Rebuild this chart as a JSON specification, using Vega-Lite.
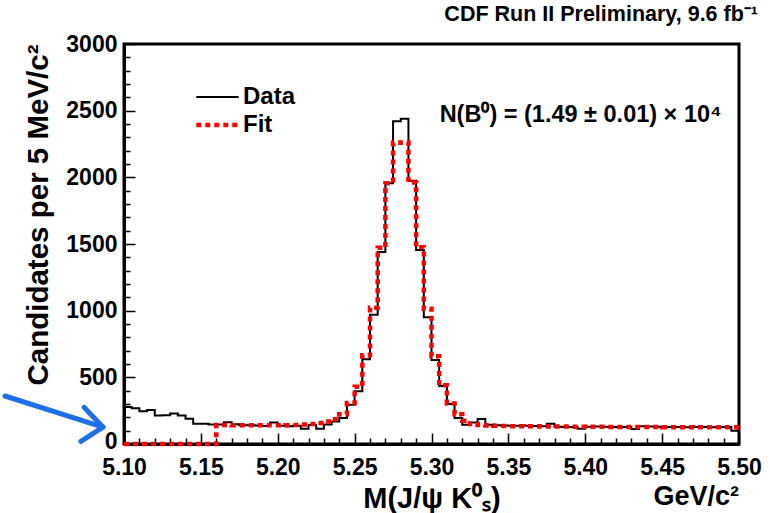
{
  "$schema": "https://vega.github.io/schema/vega-lite/v6.json",
  "width": 615,
  "height": 400,
  "autosize": {"type": "none"},
  "padding": {"left": 124, "top": 44, "right": 31, "bottom": 69},
  "background": "white",
  "config": {
    "font": "Liberation Sans Narrow, Liberation Sans, sans-serif",
    "view": {"stroke": "black", "strokeWidth": 3},
    "axis": {"grid": false, "domainColor": "black", "domainWidth": 3, "tickColor": "black", "tickWidth": 1.5, "labelColor": "black", "titleColor": "black", "labelFontWeight": "bold", "titleFontWeight": "bold", "labelOverlap": false, "labelFlush": false, "tickCount": 100}
  },
  "title": {"text": "CDF Run II Preliminary, 9.6 fb⁻¹", "anchor": "end", "frame": "group", "fontSize": 21.5, "fontWeight": "bold", "color": "black", "offset": 8, "dx": 19},
  "layer": [
    {
      "data": {"values": [
        {"lo": 5.100, "hi": 5.105, "Data": 278, "Fit": 0},
        {"lo": 5.105, "hi": 5.110, "Data": 268, "Fit": 0},
        {"lo": 5.110, "hi": 5.115, "Data": 245, "Fit": 0},
        {"lo": 5.115, "hi": 5.120, "Data": 255, "Fit": 0},
        {"lo": 5.120, "hi": 5.125, "Data": 213, "Fit": 0},
        {"lo": 5.125, "hi": 5.130, "Data": 216, "Fit": 0},
        {"lo": 5.130, "hi": 5.135, "Data": 228, "Fit": 0},
        {"lo": 5.135, "hi": 5.140, "Data": 213, "Fit": 0},
        {"lo": 5.140, "hi": 5.145, "Data": 190, "Fit": 0},
        {"lo": 5.145, "hi": 5.150, "Data": 152, "Fit": 0},
        {"lo": 5.150, "hi": 5.155, "Data": 151, "Fit": 0},
        {"lo": 5.155, "hi": 5.160, "Data": 147, "Fit": 0},
        {"lo": 5.160, "hi": 5.165, "Data": 146, "Fit": 142},
        {"lo": 5.165, "hi": 5.170, "Data": 163, "Fit": 142},
        {"lo": 5.170, "hi": 5.175, "Data": 148, "Fit": 141},
        {"lo": 5.175, "hi": 5.180, "Data": 140, "Fit": 140},
        {"lo": 5.180, "hi": 5.185, "Data": 140, "Fit": 140},
        {"lo": 5.185, "hi": 5.190, "Data": 138, "Fit": 140},
        {"lo": 5.190, "hi": 5.195, "Data": 135, "Fit": 140},
        {"lo": 5.195, "hi": 5.200, "Data": 162, "Fit": 140},
        {"lo": 5.200, "hi": 5.205, "Data": 136, "Fit": 140},
        {"lo": 5.205, "hi": 5.210, "Data": 134, "Fit": 141},
        {"lo": 5.210, "hi": 5.215, "Data": 137, "Fit": 143},
        {"lo": 5.215, "hi": 5.220, "Data": 115, "Fit": 146},
        {"lo": 5.220, "hi": 5.225, "Data": 142, "Fit": 150},
        {"lo": 5.225, "hi": 5.230, "Data": 114, "Fit": 157},
        {"lo": 5.230, "hi": 5.235, "Data": 146, "Fit": 168},
        {"lo": 5.235, "hi": 5.240, "Data": 168, "Fit": 185},
        {"lo": 5.240, "hi": 5.245, "Data": 195, "Fit": 224},
        {"lo": 5.245, "hi": 5.250, "Data": 295, "Fit": 307},
        {"lo": 5.250, "hi": 5.255, "Data": 395, "Fit": 429},
        {"lo": 5.255, "hi": 5.260, "Data": 635, "Fit": 666},
        {"lo": 5.260, "hi": 5.265, "Data": 970, "Fit": 1022},
        {"lo": 5.265, "hi": 5.270, "Data": 1440, "Fit": 1471},
        {"lo": 5.270, "hi": 5.275, "Data": 1955, "Fit": 1955},
        {"lo": 5.275, "hi": 5.280, "Data": 2420, "Fit": 2260},
        {"lo": 5.280, "hi": 5.285, "Data": 2440, "Fit": 2262},
        {"lo": 5.285, "hi": 5.290, "Data": 1975, "Fit": 1962},
        {"lo": 5.290, "hi": 5.295, "Data": 1455, "Fit": 1476},
        {"lo": 5.295, "hi": 5.300, "Data": 950, "Fit": 1015},
        {"lo": 5.300, "hi": 5.305, "Data": 630, "Fit": 658},
        {"lo": 5.305, "hi": 5.310, "Data": 435, "Fit": 441},
        {"lo": 5.310, "hi": 5.315, "Data": 300, "Fit": 304},
        {"lo": 5.315, "hi": 5.320, "Data": 195, "Fit": 224},
        {"lo": 5.320, "hi": 5.325, "Data": 145, "Fit": 174},
        {"lo": 5.325, "hi": 5.330, "Data": 162, "Fit": 150},
        {"lo": 5.330, "hi": 5.335, "Data": 188, "Fit": 142},
        {"lo": 5.335, "hi": 5.340, "Data": 145, "Fit": 138},
        {"lo": 5.340, "hi": 5.345, "Data": 140, "Fit": 136},
        {"lo": 5.345, "hi": 5.350, "Data": 138, "Fit": 135},
        {"lo": 5.350, "hi": 5.355, "Data": 136, "Fit": 134},
        {"lo": 5.355, "hi": 5.360, "Data": 136, "Fit": 134},
        {"lo": 5.360, "hi": 5.365, "Data": 137, "Fit": 133},
        {"lo": 5.365, "hi": 5.370, "Data": 135, "Fit": 133},
        {"lo": 5.370, "hi": 5.375, "Data": 134, "Fit": 132},
        {"lo": 5.375, "hi": 5.380, "Data": 152, "Fit": 132},
        {"lo": 5.380, "hi": 5.385, "Data": 130, "Fit": 131},
        {"lo": 5.385, "hi": 5.390, "Data": 128, "Fit": 131},
        {"lo": 5.390, "hi": 5.395, "Data": 128, "Fit": 130},
        {"lo": 5.395, "hi": 5.400, "Data": 115, "Fit": 130},
        {"lo": 5.400, "hi": 5.405, "Data": 130, "Fit": 129},
        {"lo": 5.405, "hi": 5.410, "Data": 132, "Fit": 129},
        {"lo": 5.410, "hi": 5.415, "Data": 129, "Fit": 129},
        {"lo": 5.415, "hi": 5.420, "Data": 128, "Fit": 128},
        {"lo": 5.420, "hi": 5.425, "Data": 126, "Fit": 128},
        {"lo": 5.425, "hi": 5.430, "Data": 127, "Fit": 128},
        {"lo": 5.430, "hi": 5.435, "Data": 112, "Fit": 127},
        {"lo": 5.435, "hi": 5.440, "Data": 133, "Fit": 127},
        {"lo": 5.440, "hi": 5.445, "Data": 131, "Fit": 127},
        {"lo": 5.445, "hi": 5.450, "Data": 130, "Fit": 127},
        {"lo": 5.450, "hi": 5.455, "Data": 128, "Fit": 126},
        {"lo": 5.455, "hi": 5.460, "Data": 128, "Fit": 126},
        {"lo": 5.460, "hi": 5.465, "Data": 127, "Fit": 126},
        {"lo": 5.465, "hi": 5.470, "Data": 126, "Fit": 126},
        {"lo": 5.470, "hi": 5.475, "Data": 128, "Fit": 125},
        {"lo": 5.475, "hi": 5.480, "Data": 127, "Fit": 125},
        {"lo": 5.480, "hi": 5.485, "Data": 126, "Fit": 125},
        {"lo": 5.485, "hi": 5.490, "Data": 127, "Fit": 125},
        {"lo": 5.490, "hi": 5.495, "Data": 128, "Fit": 125},
        {"lo": 5.495, "hi": 5.500, "Data": 100, "Fit": 125}
      ]},
      "transform": [
        {"fold": ["Data", "Fit"], "as": ["series", "count"]},
        {"fold": ["lo", "hi"], "as": ["edge", "mass"]}
      ],
      "mark": {"type": "line", "strokeCap": "butt", "strokeJoin": "miter"},
      "encoding": {
        "x": {"field": "mass", "type": "quantitative",
          "scale": {"domain": [5.1, 5.5], "nice": false, "zero": false},
          "axis": {
            "title": "M(J/ψ K⁰ₛ)", "titleFontSize": 29, "titlePadding": 0,
            "values": [5.10,5.11,5.12,5.13,5.14,5.15,5.16,5.17,5.18,5.19,5.20,5.21,5.22,5.23,5.24,5.25,5.26,5.27,5.28,5.29,5.30,5.31,5.32,5.33,5.34,5.35,5.36,5.37,5.38,5.39,5.40,5.41,5.42,5.43,5.44,5.45,5.46,5.47,5.48,5.49,5.50],
            "format": ".2f", "tickCount": 100,
            "labelExpr": "abs(datum.value*20 - round(datum.value*20)) < 0.001 ? datum.label : ''",
            "labelFontSize": 23, "labelPadding": 23,
            "tickSize": {"condition": {"test": "abs(datum.value*20 - round(datum.value*20)) < 0.001", "value": -11}, "value": -6}
          }
        },
        "y": {"field": "count", "type": "quantitative",
          "scale": {"domain": [0, 3000], "nice": false},
          "axis": {
            "title": "Candidates per 5 MeV/c²", "titleFontSize": 29.5, "titleAnchor": "end", "titlePadding": 12,
            "values": [0,100,200,300,400,500,600,700,800,900,1000,1100,1200,1300,1400,1500,1600,1700,1800,1900,2000,2100,2200,2300,2400,2500,2600,2700,2800,2900,3000],
            "format": "d", "tickCount": 100,
            "labelExpr": "datum.value % 500 == 0 ? datum.label : ''",
            "labelFontSize": 23, "labelPadding": 18,
            "labelOffset": {"condition": {"test": "datum.value == 0", "value": -3}, "value": 0},
            "tickSize": {"condition": {"test": "datum.value % 500 == 0", "value": -11}, "value": -6}
          }
        },
        "color": {"field": "series", "type": "nominal", "title": null,
          "scale": {"domain": ["Data", "Fit"], "range": ["#000000", "#ff0000"]},
          "legend": {"orient": "none", "legendX": 70, "legendY": 39, "title": null, "symbolType": "stroke", "symbolSize": 1800, "clipHeight": 28, "labelFontSize": 24, "labelFontWeight": "bold", "labelColor": "black", "rowPadding": 0, "labelOffset": 2}
        },
        "strokeDash": {"field": "series", "type": "nominal", "title": null,
          "scale": {"domain": ["Data", "Fit"], "range": [[1, 0], [5, 4]]},
          "legend": {"orient": "none", "legendX": 70, "legendY": 39, "title": null, "symbolType": "stroke", "symbolSize": 1800, "clipHeight": 28, "labelFontSize": 24, "labelFontWeight": "bold", "labelColor": "black", "rowPadding": 0, "labelOffset": 2}
        },
        "strokeWidth": {"field": "series", "type": "nominal", "title": null,
          "scale": {"domain": ["Data", "Fit"], "range": [2, 4.5]},
          "legend": {"orient": "none", "legendX": 70, "legendY": 39, "title": null, "symbolType": "stroke", "symbolSize": 1800, "clipHeight": 28, "labelFontSize": 24, "labelFontWeight": "bold", "labelColor": "black", "rowPadding": 0, "labelOffset": 2}
        },
        "order": [{"field": "mass", "type": "quantitative"}, {"field": "edge", "type": "nominal"}]
      }
    },
    {
      "data": {"values": [
        {"text": "N(B⁰) = (1.49 ± 0.01) × 10⁴", "mx": 5.397, "cy": 2467}
      ]},
      "mark": {"type": "text", "fontSize": 23.5, "fontWeight": "bold", "color": "black", "align": "center", "baseline": "middle"},
      "encoding": {
        "x": {"field": "mx", "type": "quantitative", "title": "M(J/ψ K⁰ₛ)"},
        "y": {"field": "cy", "type": "quantitative", "title": "Candidates per 5 MeV/c²"},
        "text": {"field": "text"}
      }
    },
    {
      "data": {"values": [
        {"text": "GeV/c²", "mx": 5.5, "cy": -455}
      ]},
      "mark": {"type": "text", "fontSize": 27, "fontWeight": "bold", "color": "black", "align": "right", "baseline": "alphabetic"},
      "encoding": {
        "x": {"field": "mx", "type": "quantitative", "title": "M(J/ψ K⁰ₛ)"},
        "y": {"field": "cy", "type": "quantitative", "title": "Candidates per 5 MeV/c²"},
        "text": {"field": "text"}
      }
    },
    {
      "data": {"values": [
        {"ax": 5.0226, "ay": 360, "bx": 5.0863, "by": 127},
        {"ax": 5.0740, "ay": 275, "bx": 5.0863, "by": 127},
        {"ax": 5.0720, "ay": 20, "bx": 5.0863, "by": 127}
      ]},
      "mark": {"type": "rule", "color": "#1f6fe6", "strokeWidth": 5, "strokeCap": "round"},
      "encoding": {
        "x": {"field": "ax", "type": "quantitative", "title": "M(J/ψ K⁰ₛ)"},
        "y": {"field": "ay", "type": "quantitative", "title": "Candidates per 5 MeV/c²"},
        "x2": {"field": "bx"},
        "y2": {"field": "by"}
      }
    }
  ]
}
